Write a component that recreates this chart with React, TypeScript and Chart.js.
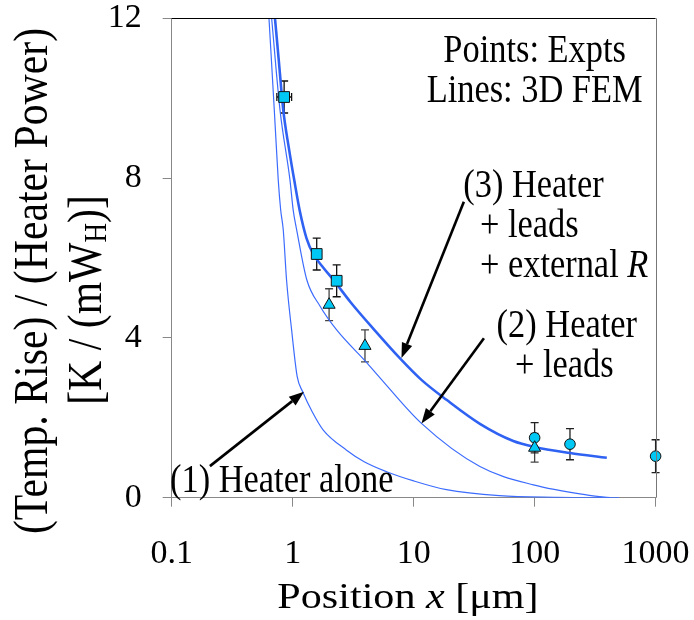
import React, { useEffect, useRef } from 'react';
import { Chart, registerables } from 'chart.js';
Chart.register(...registerables);

const FONT = "'Liberation Serif', 'Times New Roman', Times, serif";

// axis ticks
const xTickValues = [0.1, 1, 10, 100, 1000];
const yTickValues = [0, 4, 8, 12];

// 3D FEM lines
const aloneX = [0.637, 0.705, 0.76, 0.796, 0.836, 0.89, 0.98, 1.09, 1.21, 1.45, 1.79, 2.79, 3.9, 5.98, 10, 18.7, 51, 150, 500];
const aloneY = [12, 9.7, 7.95, 7.2, 6.7, 5.45, 4.2, 3.03, 2.65, 2.15, 1.69, 1.19, 0.9, 0.65, 0.42, 0.2, 0.05, 0.01, 0];

const leadsX = [0.67, 0.786, 0.95, 1.01, 1.08, 1.31, 1.68, 2.31, 4.04, 5.27, 11.6, 35.3, 97.7, 268, 420];
const leadsY = [12, 9.7, 7.95, 7.2, 6.7, 5.45, 4.8, 4.2, 3.4, 3.0, 1.86, 0.78, 0.32, 0.07, 0];

const fullX = [0.714, 0.77, 0.836, 0.93, 1.03, 1.15, 1.3, 1.48, 1.8, 2.2, 3.0, 4.77, 7.93, 11.6, 18.7, 35.3, 66.6, 100, 196, 395];
const fullY = [12, 10.9, 9.7, 8.75, 7.95, 7.15, 6.5, 6.1, 5.75, 5.43, 4.9, 4.19, 3.45, 2.95, 2.45, 1.85, 1.42, 1.27, 1.12, 1.0];

// experimental points
const squareX = [0.85, 1.58, 2.31];
const squareY = [10.03, 6.1, 5.43];
const squareErr = [0.4, 0.4, 0.4];
const squareXLow = [0.74, null, null];
const squareXHigh = [0.98, null, null];

const triangleX = [2.0, 3.96, 100];
const triangleY = [4.83, 3.8, 1.25];
const triangleErr = [0.4, 0.4, 0.36];

const circleX = [100, 196, 1000];
const circleY = [1.5, 1.34, 1.04];
const circleErr = [0.38, 0.39, 0.41];

// annotations (data coordinates)
const noteLines = ['Points: Expts', 'Lines: 3D FEM', '(3) Heater', '+ leads', '+ external ', '(2) Heater', '+ leads', '(1) Heater alone'];
const noteItalic = ['', '', '', '', 'R', '', '', ''];
const noteX = [100, 100, 25.7, 35.3, 35.3, 48.5, 68.7, 0.0968];
const noteY = [10.91, 9.91, 7.53, 6.52, 5.52, 4.03, 3.03, 0.15];
const noteAlign = ['center', 'center', 'left', 'left', 'left', 'left', 'left', 'left'];

const arrowFromX = [0.207, 38.1, 26.0];
const arrowFromY = [0.79, 3.99, 7.41];
const arrowToX = [1.24, 11.6, 7.93];
const arrowToY = [2.65, 1.86, 3.5];

type Run = { t: string; italic?: boolean; sub?: boolean };

function drawRuns(ctx: CanvasRenderingContext2D, runs: Run[], x: number, y: number, size: number, hscale: number, align: string, baseline: CanvasTextBaseline = 'alphabetic') {
  ctx.save();
  ctx.textBaseline = baseline;
  ctx.textAlign = 'left';
  ctx.fillStyle = '#000';
  const fonts = runs.map(r => `${r.italic ? 'italic ' : ''}${r.sub ? Math.round(size * 0.65) : size}px ${FONT}`);
  const widths = runs.map((r, i) => { ctx.font = fonts[i]; return ctx.measureText(r.t).width; });
  const total = widths.reduce((a, b) => a + b, 0);
  ctx.translate(x, y);
  ctx.scale(hscale, 1);
  let cx = align === 'center' ? -total / 2 : 0;
  runs.forEach((r, i) => {
    ctx.font = fonts[i];
    ctx.fillText(r.t, cx, r.sub ? size * 0.2 : 0);
    cx += widths[i];
  });
  ctx.restore();
}

function drawArrow(ctx: CanvasRenderingContext2D, x1: number, y1: number, x2: number, y2: number) {
  const ang = Math.atan2(y2 - y1, x2 - x1);
  const len = 15, hw = 5.5;
  const bx = x2 - len * Math.cos(ang), by = y2 - len * Math.sin(ang);
  ctx.save();
  ctx.strokeStyle = '#000';
  ctx.fillStyle = '#000';
  ctx.lineWidth = 2.6;
  ctx.beginPath();
  ctx.moveTo(x1, y1);
  ctx.lineTo(bx, by);
  ctx.stroke();
  ctx.beginPath();
  ctx.moveTo(x2, y2);
  ctx.lineTo(bx + hw * Math.sin(ang), by - hw * Math.cos(ang));
  ctx.lineTo(bx - hw * Math.sin(ang), by + hw * Math.cos(ang));
  ctx.closePath();
  ctx.fill();
  ctx.restore();
}

const decorPlugin = {
  id: 'decor',
  beforeDatasetsDraw(chart: any) {
    const ctx: CanvasRenderingContext2D = chart.ctx;
    const xs = chart.scales.x, ys = chart.scales.y;
    const cap = 4;
    const vbar = (x: number, y: number, e: number, color: string) => {
      const px = xs.getPixelForValue(x);
      const p1 = ys.getPixelForValue(y + e), p2 = ys.getPixelForValue(y - e);
      ctx.strokeStyle = color;
      ctx.lineWidth = 1.3;
      ctx.beginPath();
      ctx.moveTo(px, p1); ctx.lineTo(px, p2);
      ctx.moveTo(px - cap, p1); ctx.lineTo(px + cap, p1);
      ctx.moveTo(px - cap, p2); ctx.lineTo(px + cap, p2);
      ctx.stroke();
    };
    ctx.save();
    squareX.forEach((x, i) => vbar(x, squareY[i], squareErr[i], '#111'));
    triangleX.forEach((x, i) => vbar(x, triangleY[i], triangleErr[i], '#444'));
    circleX.forEach((x, i) => vbar(x, circleY[i], circleErr[i], '#222'));
    squareX.forEach((x, i) => {
      const lo = squareXLow[i], hi = squareXHigh[i];
      if (lo == null || hi == null) return;
      const py = ys.getPixelForValue(squareY[i]);
      const a = xs.getPixelForValue(lo), b = xs.getPixelForValue(hi);
      ctx.strokeStyle = '#111';
      ctx.lineWidth = 1.3;
      ctx.beginPath();
      ctx.moveTo(a, py); ctx.lineTo(b, py);
      ctx.moveTo(a, py - cap); ctx.lineTo(a, py + cap);
      ctx.moveTo(b, py - cap); ctx.lineTo(b, py + cap);
      ctx.stroke();
    });
    ctx.restore();
  },
  afterDatasetsDraw(chart: any) {
    const ctx: CanvasRenderingContext2D = chart.ctx;
    const xs = chart.scales.x, ys = chart.scales.y;
    arrowFromX.forEach((x, i) => {
      drawArrow(ctx, xs.getPixelForValue(x), ys.getPixelForValue(arrowFromY[i]),
        xs.getPixelForValue(arrowToX[i]), ys.getPixelForValue(arrowToY[i]));
    });
    noteLines.forEach((t, i) => {
      const runs: Run[] = [{ t }];
      if (noteItalic[i]) runs.push({ t: noteItalic[i], italic: true });
      drawRuns(ctx, runs, xs.getPixelForValue(noteX[i]), ys.getPixelForValue(noteY[i]), 40, 0.86, noteAlign[i]);
    });
  },
  afterDraw(chart: any) {
    const ctx: CanvasRenderingContext2D = chart.ctx;
    const a = chart.chartArea;
    ctx.save();
    ctx.lineWidth = 1;
    ctx.strokeStyle = '#000';
    ctx.beginPath();
    ctx.moveTo(a.left, Math.round(a.top) + 0.5);
    ctx.lineTo(a.right, Math.round(a.top) + 0.5);
    ctx.stroke();
    ctx.strokeStyle = '#777';
    ctx.beginPath();
    ctx.moveTo(Math.round(a.right) + 0.5, a.top);
    ctx.lineTo(Math.round(a.right) + 0.5, a.bottom);
    ctx.stroke();
    ctx.restore();
    // x title
    drawRuns(ctx, [{ t: 'Position ' }, { t: 'x', italic: true }, { t: ' [μm]' }], 408, 608, 36, 1.17, 'center');
    // y title (rotated)
    ctx.save();
    ctx.translate(34, 281);
    ctx.rotate(-Math.PI / 2);
    drawRuns(ctx, [{ t: '(Temp. Rise) / (Heater Power)' }], 0, 0, 48, 0.87, 'center', 'middle');
    ctx.restore();
    ctx.save();
    ctx.translate(88, 300);
    ctx.rotate(-Math.PI / 2);
    drawRuns(ctx, [{ t: '[K / (mW' }, { t: 'H', sub: true }, { t: ')]' }], 0, 0, 48, 0.87, 'center', 'middle');
    ctx.restore();
  },
};

export default function App() {
  const ref = useRef<HTMLCanvasElement>(null);
  useEffect(() => {
    document.body.style.margin = '0';
    const pts = (xa: number[], ya: number[]) => xa.map((x, i) => ({ x, y: ya[i] }));
    const marker = { backgroundColor: '#00c8f5', borderColor: '#111', borderWidth: 1, clip: false as any };
    const lineDs = (xa: number[], ya: number[], w: number, c: string) => ({
      data: pts(xa, ya), showLine: true, pointRadius: 0, borderColor: c, borderWidth: w,
      cubicInterpolationMode: 'monotone' as const, fill: false,
    });
    const chart = new Chart(ref.current!, {
      type: 'scatter',
      data: {
        datasets: [
          { ...marker, data: pts(squareX, squareY), pointStyle: 'rect', pointRadius: 7.6 },
          { ...marker, data: pts(triangleX, triangleY), pointStyle: 'triangle', pointRadius: 7 },
          { ...marker, data: pts(circleX, circleY), pointStyle: 'circle', pointRadius: 5.3 },
          lineDs(fullX, fullY, 2.6, '#2f62f2'),
          lineDs(leadsX, leadsY, 1.2, '#3c6cff'),
          lineDs(aloneX, aloneY, 1.2, '#3c6cff'),
        ] as any,
      },
      options: {
        responsive: false,
        animation: false,
        events: [],
        layout: { padding: { top: 18.3, right: 38.4, left: 0, bottom: 0 } },
        plugins: { legend: { display: false }, tooltip: { enabled: false } },
        scales: {
          x: {
            type: 'logarithmic',
            min: 0.1,
            max: 1000,
            afterBuildTicks: (s: any) => { s.ticks = xTickValues.map(v => ({ value: v })); },
            afterFit: (s: any) => { s.height = 122.3; s.paddingLeft = 0; s.paddingRight = 0; s.paddingTop = 0; s.paddingBottom = 0; },
            ticks: {
              callback: (v: any) => String(v),
              font: { family: FONT, size: 34, lineHeight: 1 },
              color: '#000',
              padding: 30,
              maxRotation: 0,
              autoSkip: false,
            },
            grid: { drawOnChartArea: false, tickLength: 9, color: '#888' },
            border: { color: '#888' },
          },
          y: {
            min: 0,
            max: 12,
            afterBuildTicks: (s: any) => { s.ticks = yTickValues.map(v => ({ value: v })); },
            afterFit: (s: any) => { s.width = 171.7; s.paddingLeft = 0; s.paddingRight = 0; s.paddingTop = 0; s.paddingBottom = 0; },
            ticks: {
              font: { family: FONT, size: 34, lineHeight: 1 },
              color: '#000',
              padding: 21,
            },
            grid: { drawOnChartArea: false, tickLength: 9, color: '#888' },
            border: { color: '#888' },
          },
        },
      } as any,
      plugins: [decorPlugin],
    });
    return () => chart.destroy();
  }, []);
  return (
    <div style={{ width: 694, height: 620 }}>
      <canvas ref={ref} width={694} height={620} style={{ display: 'block' }} />
    </div>
  );
}
